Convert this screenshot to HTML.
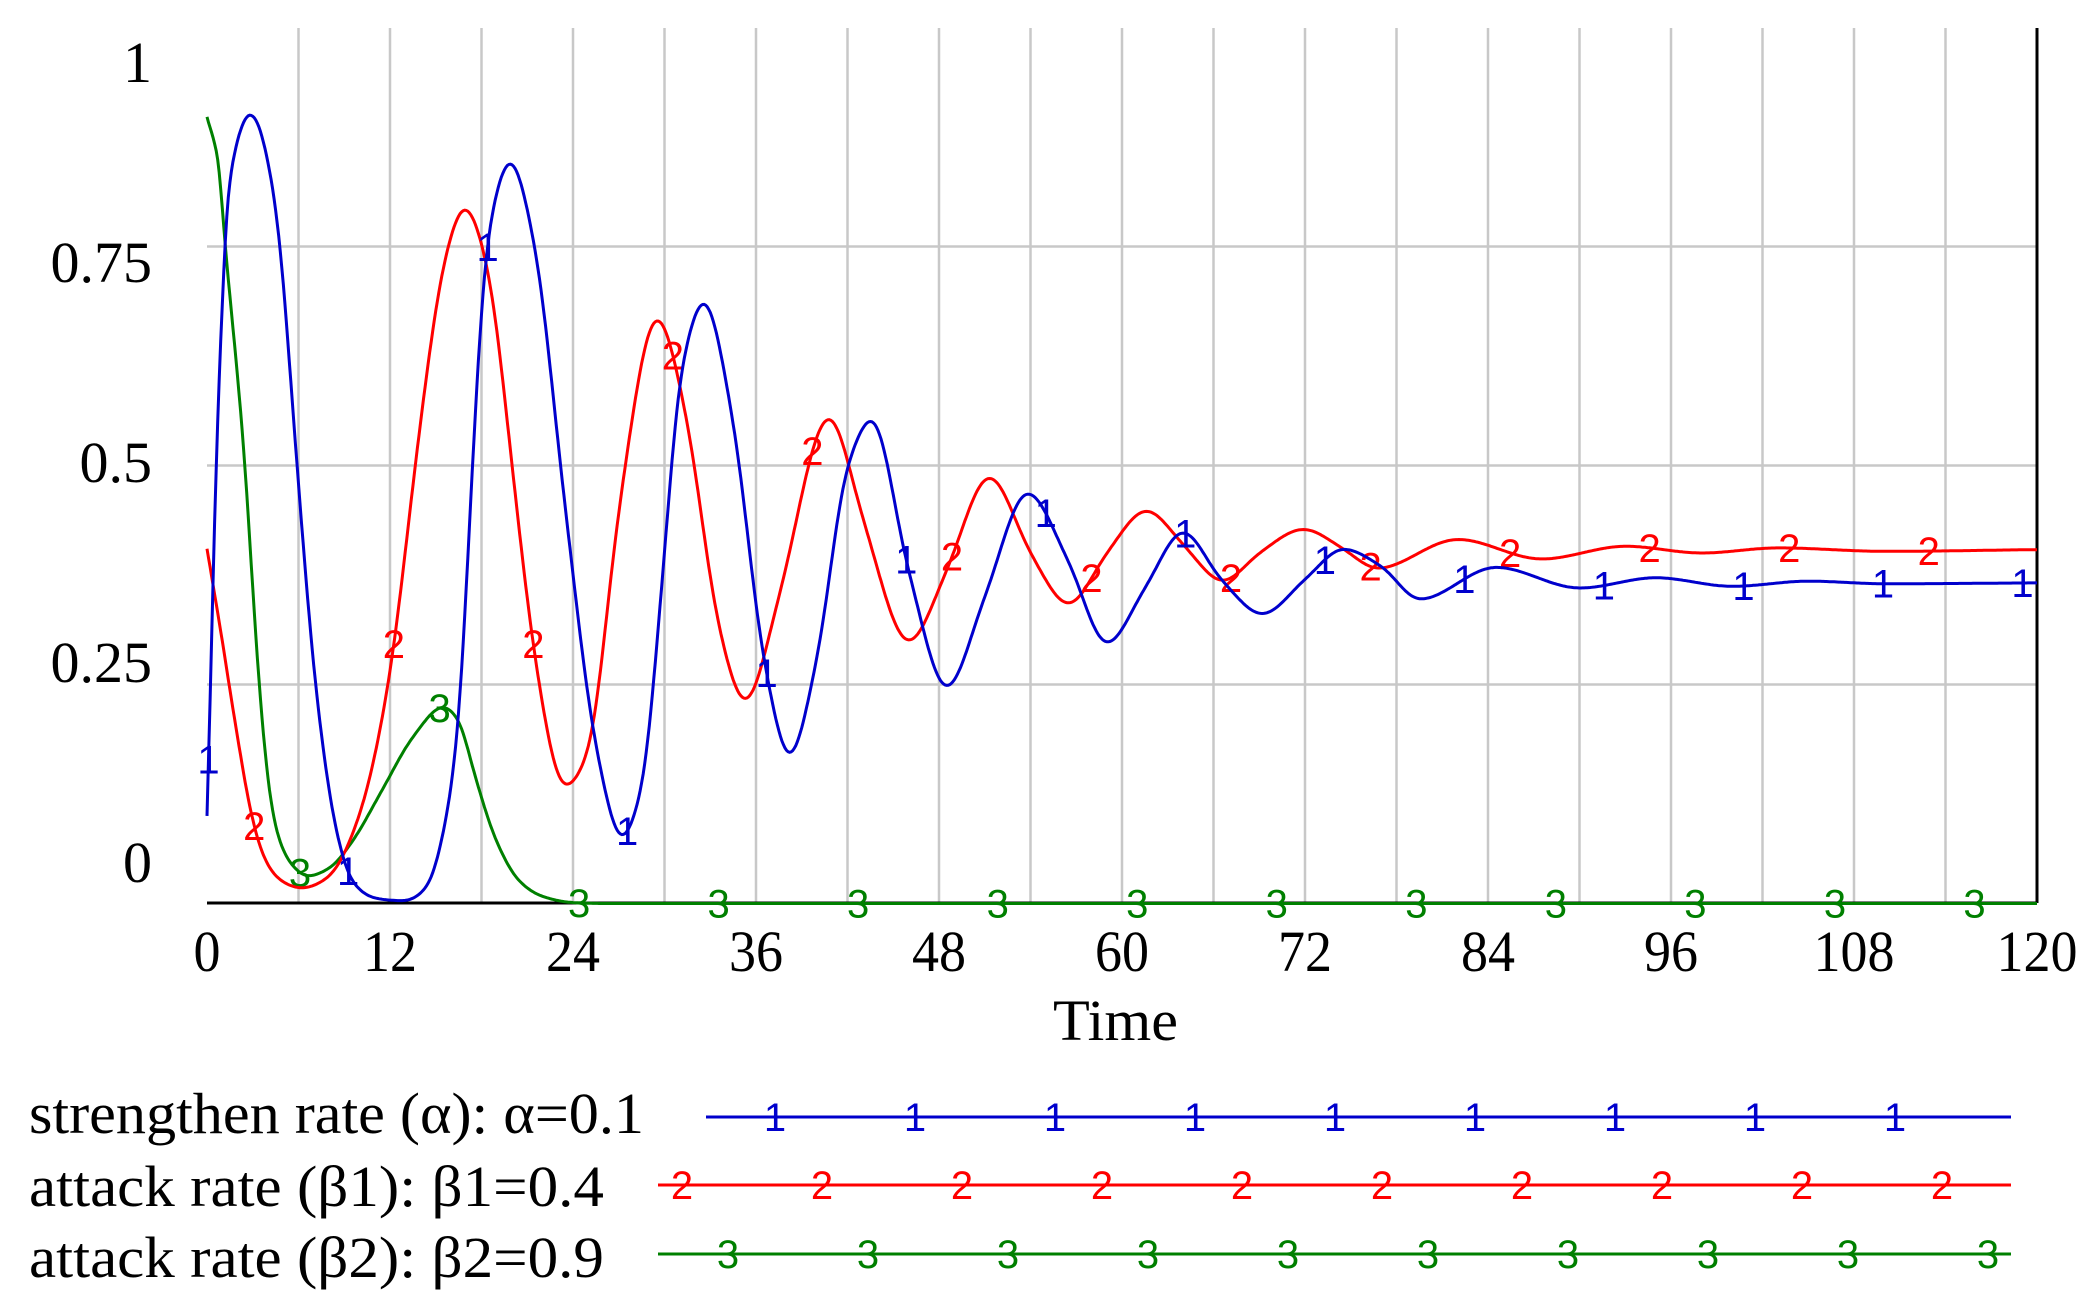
<!DOCTYPE html>
<html><head><meta charset="utf-8"><style>
html,body{margin:0;padding:0;background:#fff;}
svg{display:block;}
.ax{font-family:"Liberation Serif",serif;font-size:58px;fill:#000;}
.mk{font-family:"Liberation Sans",sans-serif;font-size:40px;}
</style></head><body>
<svg id="s" width="2085" height="1306" viewBox="0 0 2085 1306" xmlns="http://www.w3.org/2000/svg">
<g id="grid" stroke="#c8c8c8" stroke-width="2.5"></g>
<g id="lbl" class="ax"></g>
<line x1="207" y1="903" x2="2037" y2="903" stroke="#000" stroke-width="3"/>
<line x1="2037" y1="28" x2="2037" y2="903" stroke="#000" stroke-width="3"/>
<g id="series"></g>
<text class="ax" x="1053" y="1040" font-size="60" textLength="125" lengthAdjust="spacingAndGlyphs">Time</text>
<text class="ax" x="29" y="1133" textLength="615" lengthAdjust="spacingAndGlyphs">strengthen rate (α): α=0.1</text>
<text class="ax" x="29" y="1206" textLength="575" lengthAdjust="spacingAndGlyphs">attack rate (β1): β1=0.4</text>
<text class="ax" x="29" y="1277" textLength="575" lengthAdjust="spacingAndGlyphs">attack rate (β2): β2=0.9</text>
<g id="leg"></g>
</svg>
<script>
var NS="http://www.w3.org/2000/svg";
function X(t){return 207+15.25*t;}
function Y(v){return 903.5-876*v;}
function el(p,n,a,txt){var e=document.createElementNS(NS,n);for(var k in a)e.setAttribute(k,a[k]);if(txt!=null)e.textContent=txt;p.appendChild(e);return e;}
var g=document.getElementById('grid');
for(var t=6;t<=114;t+=6)el(g,'line',{x1:X(t),y1:28,x2:X(t),y2:903});
[0.25,0.5,0.75].forEach(function(v){el(g,'line',{x1:207,y1:Y(v),x2:2037,y2:Y(v)});});
var L=document.getElementById('lbl');
[["1",82],["0.75",282],["0.5",482],["0.25",682],["0",882]].forEach(function(a){el(L,'text',{x:152,y:a[1],'text-anchor':'end'},a[0]);});
for(var t=0;t<=120;t+=12){var s=String(t);el(L,'text',{x:X(t),y:971,'text-anchor':'middle',textLength:s.length*27,lengthAdjust:'spacingAndGlyphs'},s);}
function pchip(P){var n=P.length,h=[],d=[],m=[];for(var i=0;i<n-1;i++){h[i]=P[i+1][0]-P[i][0];d[i]=(P[i+1][1]-P[i][1])/h[i];}
m[0]=d[0];m[n-1]=d[n-2];for(var i=1;i<n-1;i++){if(d[i-1]*d[i]<=0)m[i]=0;else{var w1=2*h[i]+h[i-1],w2=h[i]+2*h[i-1];m[i]=(w1+w2)/(w1/d[i-1]+w2/d[i]);}}
return function(t){var i=0;while(i<n-2&&t>P[i+1][0])i++;var s=(t-P[i][0])/h[i],s2=s*s,s3=s2*s;
return (2*s3-3*s2+1)*P[i][1]+(s3-2*s2+s)*h[i]*m[i]+(-2*s3+3*s2)*P[i+1][1]+(s3-s2)*h[i]*m[i+1];};}
var blue=[[0,0.1],[0.8,0.6],[1.5,0.83],[2.9,0.905],[4.5,0.8],[5.9,0.5],[7.1,0.25],[8.5,0.08],[9.5,0.025],[11,0.006],[13,0.003],[14.5,0.02],[15.5,0.08],[16.5,0.2],[17.4,0.5],[18.3,0.75],[19.9,0.85],[21.5,0.75],[23.5,0.45],[25.5,0.18],[27.2,0.073],[28.5,0.13],[30,0.4],[31,0.6],[32.6,0.69],[34.5,0.55],[36.5,0.28],[38.2,0.166],[40,0.28],[42,0.5],[43.6,0.555],[46,0.38],[48.5,0.245],[51,0.35],[53.8,0.47],[56.5,0.39],[59,0.296],[61.5,0.36],[64,0.425],[66.5,0.37],[69.2,0.33],[72,0.37],[74.5,0.405],[77,0.385],[79.5,0.347],[84.5,0.384],[90,0.36],[95,0.372],[100,0.362],[105,0.368],[110,0.365],[120,0.366]];
var red=[[0,0.405],[1,0.3],[2,0.19],[3.3,0.07],[4.5,0.03],[6.2,0.017],[8,0.03],[10,0.1],[11.9,0.25],[14,0.55],[15.5,0.73],[16.9,0.8],[18.5,0.72],[20,0.5],[21.5,0.28],[23.4,0.13],[25,0.17],[27,0.45],[29.5,0.675],[31.5,0.55],[33.5,0.32],[35.3,0.226],[37.5,0.35],[40.8,0.56],[43,0.44],[46,0.296],[48.5,0.38],[51.3,0.49],[54,0.4],[56.5,0.34],[59,0.4],[61.6,0.45],[64,0.41],[66.6,0.367],[69,0.4],[71.9,0.428],[74.5,0.405],[76.7,0.382],[82,0.416],[87.5,0.393],[93,0.408],[98,0.4],[103,0.406],[110,0.402],[120,0.404]];
var green=[[0,0.898],[0.7,0.85],[1.2,0.75],[2.5,0.5],[3.4,0.25],[4.3,0.1],[5.3,0.05],[6.6,0.031],[8,0.04],[9.5,0.07],[11.5,0.13],[13.5,0.19],[15.5,0.225],[16.5,0.21],[17.5,0.15],[19,0.07],[20.5,0.025],[22,0.008],[24,0.001],[26,0],[120,0]];
var S=document.getElementById('series');
function smooth(f,sig0){var dt=0.05,N=Math.round(120/dt),raw=[];for(var i=0;i<=N;i++)raw.push(f(i*dt));
var out=[];for(var i=0;i<=N;i++){var t=i*dt,sig=sig0*Math.min(1,t/3);if(sig<0.02){out.push(raw[i]);continue;}
var K=Math.ceil(3*sig/dt),s=0,ss=0;for(var k=-K;k<=K;k++){var j=i+k;if(j<0||j>N)continue;var w=Math.exp(-0.5*Math.pow(k*dt/sig,2));s+=raw[j]*w;ss+=w;}out.push(s/ss);}
return function(t){var i=Math.max(0,Math.min(N,Math.round(t/dt)));return out[i];};}
function draw(P,col,lab,t0,sig){var f=smooth(pchip(P),sig),d="";for(var t=0;t<=120.001;t+=0.1){d+=(t==0?"M":"L")+X(t).toFixed(1)+","+Y(f(t)).toFixed(1);}
el(S,'path',{d:d,fill:'none',stroke:col,'stroke-width':3});
for(var t=t0;t<=120;t+=9.15){el(S,'text',{class:'mk',x:X(t),y:Y(f(t))+14,'text-anchor':'middle',fill:col},lab);}}
draw(green,'#008000','3',6.1,0.3);
draw(red,'#ff0000','2',3.1,0.45);
draw(blue,'#0000cc','1',0.1,0.35);
var G=document.getElementById('leg');
function leg(y,x1,col,lab,xs){el(G,'line',{x1:x1,y1:y,x2:2011,y2:y,stroke:col,'stroke-width':3});
for(var x=xs;x<2011;x+=140){el(G,'text',{class:'mk',x:x,y:y+14,'text-anchor':'middle',fill:col},lab);}}
leg(1117,706,'#0000cc','1',775);
leg(1185,658,'#ff0000','2',682);
leg(1254,658,'#008000','3',728);
</script>
</body></html>
